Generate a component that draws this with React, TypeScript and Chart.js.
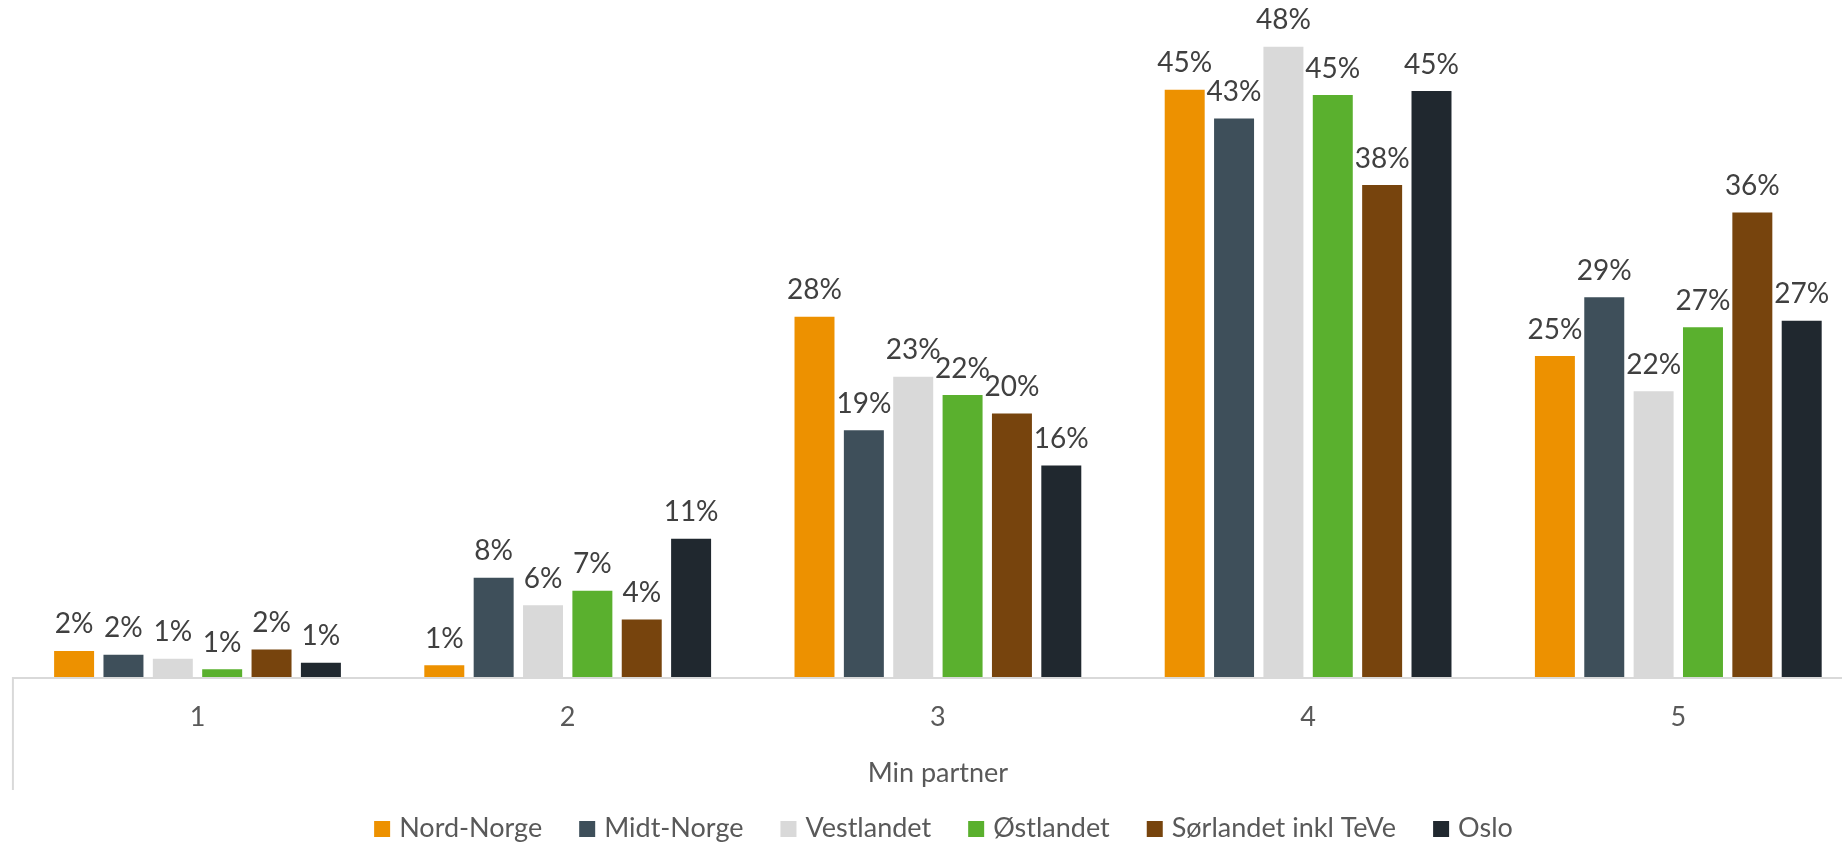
import React, { useEffect, useRef } from "react";
import { Chart, registerables } from "chart.js";

Chart.register(...registerables);

const categories = ["1", "2", "3", "4", "5"];
const groupTitle = "Min partner";
const seriesNames = ["Nord-Norge", "Midt-Norge", "Vestlandet", "Østlandet", "Sørlandet inkl TeVe", "Oslo"];

const nordNorge = [2.0, 0.9, 27.6, 45.0, 24.6];
const midtNorge = [1.7, 7.6, 18.9, 42.8, 29.1];
const vestlandet = [1.4, 5.5, 23.0, 48.3, 21.9];
const ostlandet = [0.6, 6.6, 21.6, 44.6, 26.8];
const sorlandet = [2.1, 4.4, 20.2, 37.7, 35.6];
const oslo = [1.1, 10.6, 16.2, 44.9, 27.3];

const seriesValues = [nordNorge, midtNorge, vestlandet, ostlandet, sorlandet, oslo];
const seriesColors = ["#ED9100", "#3E4F5A", "#D9D9D9", "#5AB02E", "#77440D", "#20282F"];

const FONT = "Lato, 'Open Sans', sans-serif";
const W = 1887;
const H = 845;

export default function App() {
  const ref = useRef<HTMLCanvasElement>(null);

  useEffect(() => {
    if (!ref.current) return;

    const decor = {
      id: "excelDecor",
      afterDatasetsDraw(chart: any) {
        const ctx = chart.ctx as CanvasRenderingContext2D;
        const area = chart.chartArea;
        const xs = chart.scales.x;
        ctx.save();

        // axis line
        ctx.strokeStyle = "#D9D9D9";
        ctx.lineWidth = 2;
        ctx.beginPath();
        ctx.moveTo(area.left, area.bottom + 1);
        ctx.lineTo(area.right, area.bottom + 1);
        ctx.stroke();
        // separators of the multi-level category axis
        ctx.beginPath();
        ctx.moveTo(area.left + 0.5, area.bottom);
        ctx.lineTo(area.left + 0.5, area.bottom + 113);
        ctx.stroke();
        ctx.beginPath();
        ctx.moveTo(area.right - 0.5, area.bottom);
        ctx.lineTo(area.right - 0.5, area.bottom + 113);
        ctx.stroke();

        // data labels
        const labelSize = 28;
        ctx.fillStyle = "#404040";
        ctx.font = `${labelSize}px ${FONT}`;
        ctx.textAlign = "center";
        ctx.textBaseline = "alphabetic";
        chart.data.datasets.forEach((ds: any, i: number) => {
          const meta = chart.getDatasetMeta(i);
          meta.data.forEach((bar: any, j: number) => {
            const v = ds.data[j] as number;
            ctx.fillText(`${Math.round(v)}%`, bar.x, bar.y - 27.5 + labelSize * 0.36);
          });
        });

        // category tick labels
        ctx.fillStyle = "#595959";
        ctx.font = `27px ${FONT}`;
        categories.forEach((c, i) => {
          ctx.fillText(c, xs.getPixelForValue(i), area.bottom + 49);
        });

        // group title
        ctx.font = `27px ${FONT}`;
        ctx.fillText(groupTitle, (area.left + area.right) / 2, area.bottom + 105);

        // legend
        ctx.font = `27px ${FONT}`;
        ctx.textAlign = "left";
        const box = 16;
        const gapBoxText = 9;
        const itemGap = 37;
        const widths = seriesNames.map((n) => ctx.measureText(n).width);
        const total =
          widths.reduce((a, b) => a + b + box + gapBoxText, 0) + itemGap * (seriesNames.length - 1);
        let lx = W / 2 - total / 2;
        const base = area.bottom + 160;
        seriesNames.forEach((n, i) => {
          ctx.fillStyle = seriesColors[i];
          ctx.fillRect(lx, base - box, box, box);
          ctx.fillStyle = "#595959";
          ctx.fillText(n, lx + box + gapBoxText, base);
          lx += box + gapBoxText + widths[i] + itemGap;
        });

        ctx.restore();
      },
    };

    const chart = new Chart(ref.current, {
      type: "bar",
      data: {
        labels: categories,
        datasets: seriesNames.map((name, i) => ({
          label: name,
          data: seriesValues[i],
          backgroundColor: seriesColors[i],
          borderWidth: 0,
          categoryPercentage: 0.8,
          barPercentage: 0.81,
        })),
      },
      options: {
        animation: false,
        responsive: false,
        maintainAspectRatio: false,
        layout: { padding: { left: 12.4, right: W - 1863.4, top: 24.5, bottom: H - 677 } },
        plugins: {
          legend: { display: false },
          tooltip: { enabled: false },
        },
        scales: {
          x: { display: false },
          y: { display: false, min: 0, max: 50 },
        },
      },
      plugins: [decor],
    });

    return () => chart.destroy();
  }, []);

  return (
    <div
      style={{
        position: "fixed",
        left: 0,
        top: 0,
        width: "100vw",
        height: "100vh",
        overflow: "hidden",
        background: "#ffffff",
      }}
    >
      <canvas ref={ref} width={W} height={H} style={{ display: "block" }} />
    </div>
  );
}
